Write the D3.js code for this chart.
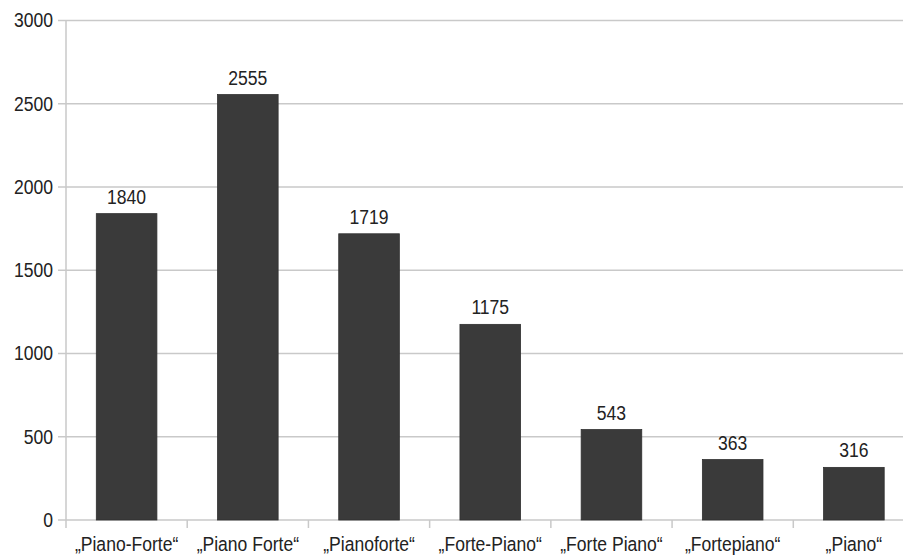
<!DOCTYPE html>
<html>
<head>
<meta charset="utf-8">
<script src="https://cdn.jsdelivr.net/npm/d3@7"></script>
<style>
  html, body { margin: 0; padding: 0; background: #fff; overflow: hidden; }
  svg { display: block; }
  text { font-family: "Liberation Sans", Arial, sans-serif; fill: #222; font-size: 19.5px; }
</style>
</head>
<body>
<script>
// Spellings of the instrument name and how often each occurs
const categories = ["„Piano-Forte“", "„Piano Forte“", "„Pianoforte“", "„Forte-Piano“", "„Forte Piano“", "„Fortepiano“", "„Piano“"];
const counts = [1840, 2555, 1719, 1175, 543, 363, 316];
const yTicks = [0, 500, 1000, 1500, 2000, 2500, 3000];

const W = 903, H = 555;
const margin = { left: 66, top: 20.5, bottom: 35 };
const plotRight = 914.5;
const squeeze = 0.9; // labels are set slightly condensed

const svg = d3.select("body").append("svg").attr("width", W).attr("height", H);

const x = d3.scaleBand().domain(categories).range([margin.left, plotRight]).paddingInner(0.5).paddingOuter(0.25);
const xTicks = d3.scaleBand().domain(categories).range([margin.left, plotRight]);
const y = d3.scaleLinear().domain([0, 3000]).range([H - margin.bottom, margin.top]);

const place = (px, py) => `translate(${px},${py}) scale(${squeeze},1)`;

// horizontal gridlines with short ticks on the left
const grid = svg.append("g");
grid.selectAll("line").data(yTicks).join("line")
  .attr("x1", margin.left - 8).attr("x2", plotRight)
  .attr("y1", d => y(d)).attr("y2", d => y(d))
  .attr("stroke", "#c9c9c9").attr("stroke-width", 1.5);

grid.selectAll("text").data(yTicks).join("text")
  .attr("transform", d => place(margin.left - 13, y(d)))
  .attr("dy", "0.35em").attr("text-anchor", "end")
  .text(d => d);

// vertical axis line
svg.append("line")
  .attr("x1", margin.left).attr("x2", margin.left)
  .attr("y1", y(3000)).attr("y2", y(0) + 8)
  .attr("stroke", "#c9c9c9").attr("stroke-width", 1.5);

// category separators below the baseline
svg.append("g").selectAll("line").data(d3.range(1, categories.length + 1)).join("line")
  .attr("x1", i => margin.left + i * xTicks.step())
  .attr("x2", i => margin.left + i * xTicks.step())
  .attr("y1", y(0)).attr("y2", y(0) + 8)
  .attr("stroke", "#c9c9c9").attr("stroke-width", 1.5);

// bars
svg.append("g").selectAll("rect").data(counts).join("rect")
  .attr("x", (d, i) => x(categories[i]))
  .attr("width", x.bandwidth())
  .attr("y", d => y(d))
  .attr("height", d => y(0) - y(d))
  .attr("fill", "#3a3a3a")
  .attr("stroke", "#303030").attr("stroke-width", 0.8);

// value labels
svg.append("g").selectAll("text").data(counts).join("text")
  .attr("transform", (d, i) => place(x(categories[i]) + x.bandwidth() / 2, y(d) - 10))
  .attr("text-anchor", "middle")
  .text(d => d);

// category labels
svg.append("g").selectAll("text").data(categories).join("text")
  .attr("transform", d => place(xTicks(d) + xTicks.bandwidth() / 2, y(0) + 31))
  .attr("text-anchor", "middle")
  .text(d => d);
</script>
</body>
</html>
